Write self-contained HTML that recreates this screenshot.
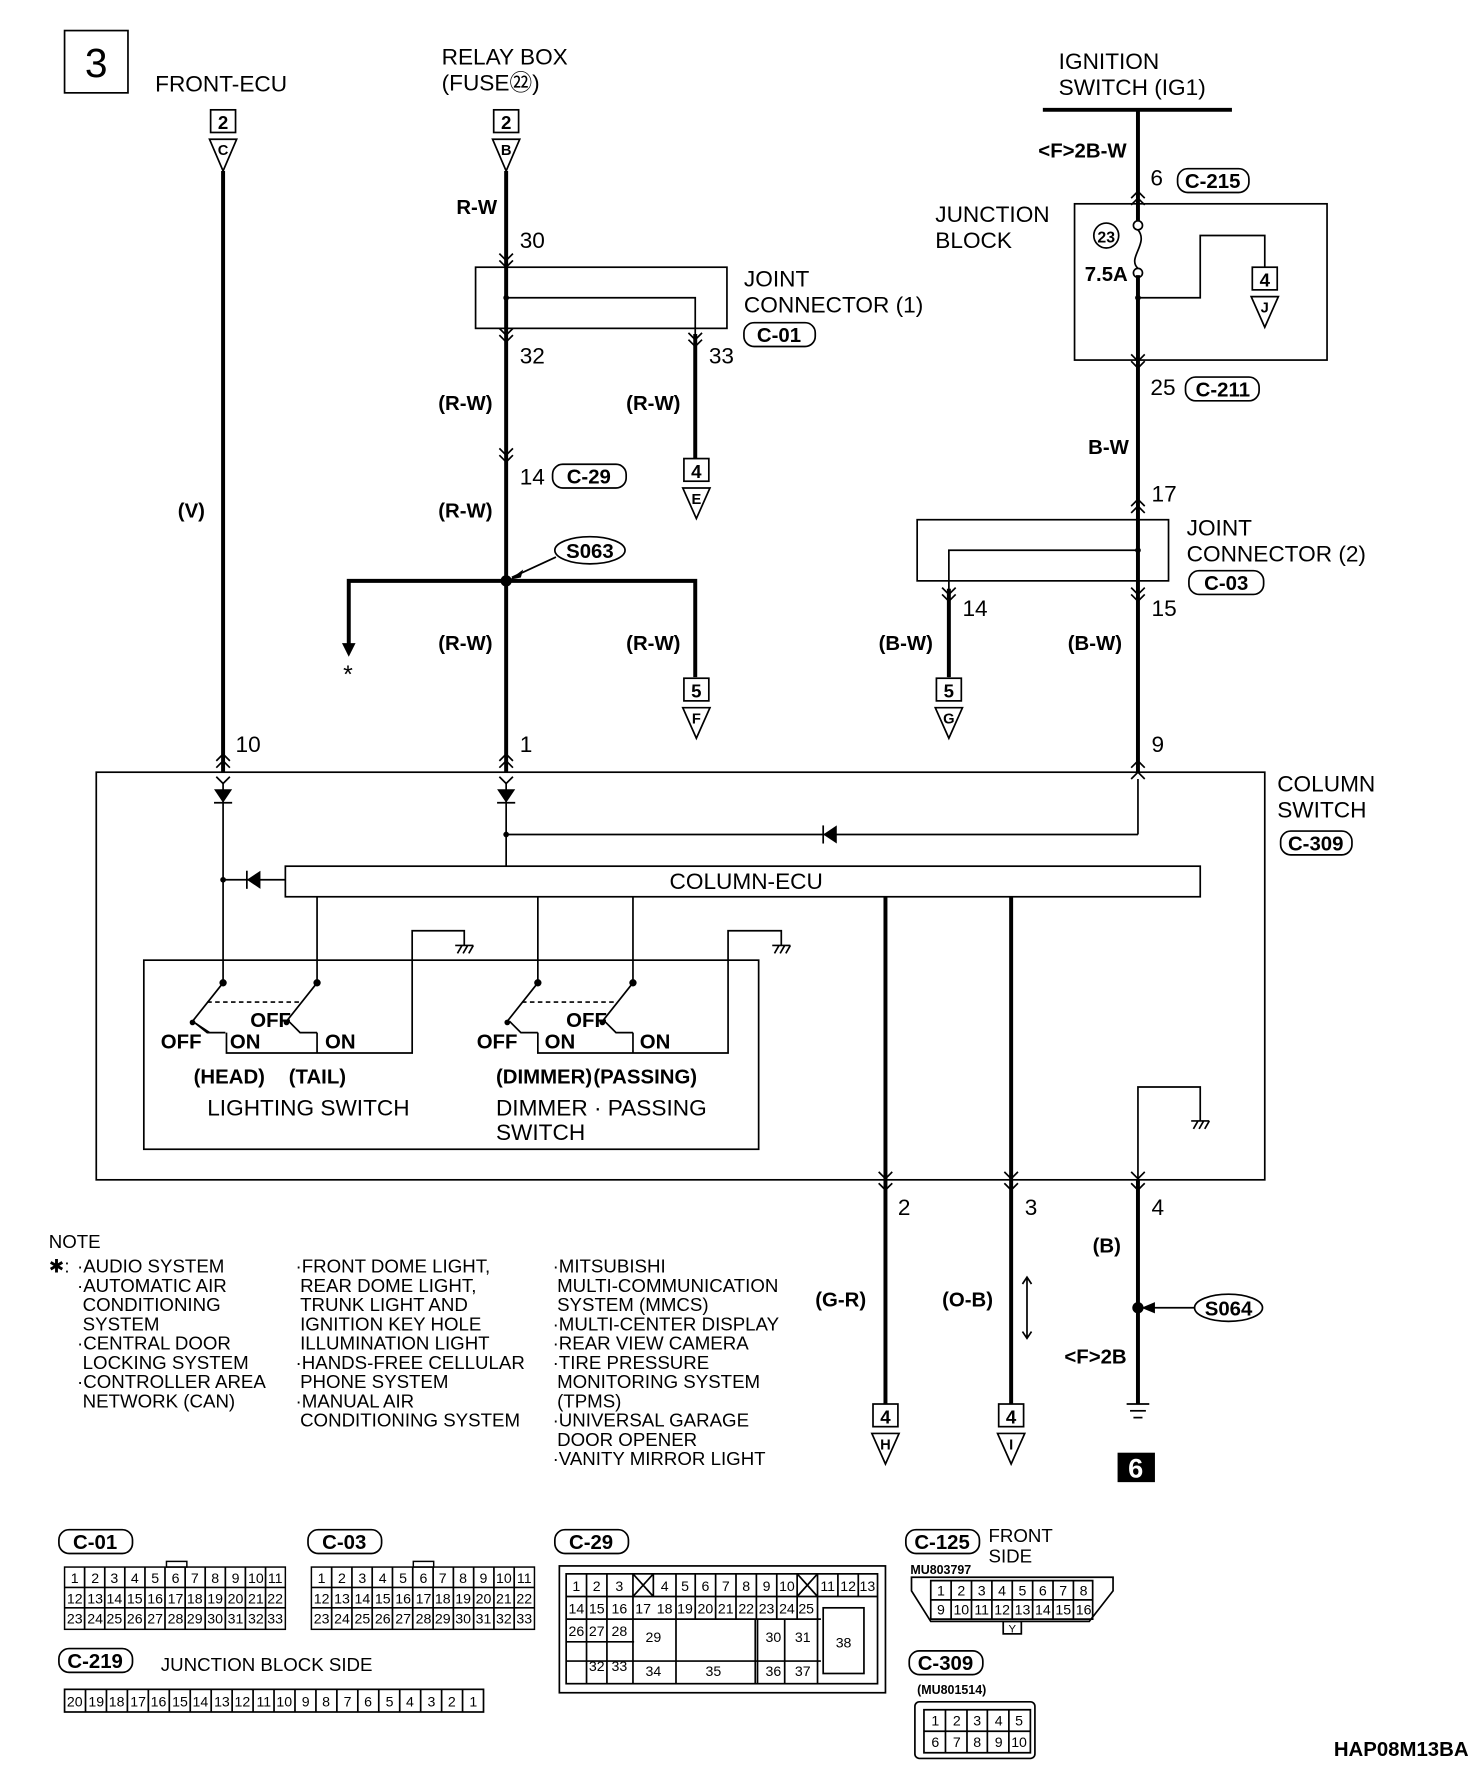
<!DOCTYPE html>
<html><head><meta charset="utf-8"><style>
html,body{margin:0;padding:0;background:#fff}
svg{display:block}
text{font-family:"Liberation Sans",sans-serif;fill:#000}
.t{font-size:20px}
.w{font-size:18px;font-weight:bold;font-family:"Liberation Sans Narrow","Liberation Sans",sans-serif}
.s{font-size:16.5px}
.g{font-size:12.5px;text-anchor:middle}
.th{stroke:#000;stroke-width:3.5;fill:none}
.tn{stroke:#000;stroke-width:1.5;fill:none}
.gr rect{fill:none;stroke:#000;stroke-width:1.3}
</style></head><body>
<svg width="1472" height="1772" viewBox="0 0 1300 1565" xmlns="http://www.w3.org/2000/svg">
<rect x="0" y="0" width="1300" height="1565" fill="#fff"/>
<rect x="57" y="27" width="56" height="55" class="tn" stroke-width="2"/>
<text x="85" y="68" font-size="36" text-anchor="middle">3</text>
<text x="137" y="81" class="t">FRONT-ECU</text>
<text x="390" y="57" class="t">RELAY BOX</text>
<text x="390" y="80" class="t">(FUSE㉒)</text>
<text x="935" y="61" class="t">IGNITION</text>
<text x="935" y="84" class="t">SWITCH (IG1)</text>
<line x1="921" y1="97" x2="1088" y2="97" class="th" stroke-width="2.5"/>

<!-- top connectors -->
<g>
<rect x="186" y="97" width="22" height="20" class="tn"/><text x="197" y="114" class="s" text-anchor="middle" font-weight="bold">2</text>
<polygon points="185,123 209,123 197,151" class="tn"/><text x="197" y="137" font-size="13" text-anchor="middle" font-weight="bold">C</text>
<rect x="436" y="97" width="22" height="20" class="tn"/><text x="447" y="114" class="s" text-anchor="middle" font-weight="bold">2</text>
<polygon points="435,123 459,123 447,151" class="tn"/><text x="447" y="137" font-size="13" text-anchor="middle" font-weight="bold">B</text>
</g>
<line x1="197" y1="151" x2="197" y2="682" class="th"/>
<line x1="447" y1="151" x2="447" y2="682" class="th"/>
<line x1="1005" y1="97" x2="1005" y2="682" class="th"/>
<line x1="614" y1="295" x2="614" y2="405" class="th"/>

<!-- relay side -->
<text x="403" y="189" class="w">R-W</text>
<text x="459" y="219" class="t">30</text>
<rect x="420" y="236" width="222" height="54" class="tn"/>
<polyline points="447,263 614,263 614,295" class="tn"/>
<circle cx="447" cy="263" r="2.5"/>
<text x="657" y="253" class="t">JOINT</text>
<text x="657" y="276" class="t">CONNECTOR (1)</text>
<rect x="657" y="285" width="63" height="21" rx="9" class="tn"/><text x="688" y="302" class="w" text-anchor="middle">C-01</text>
<text x="459" y="321" class="t">32</text><text x="626" y="321" class="t">33</text>
<text x="387" y="362" class="w">(R-W)</text><text x="553" y="362" class="w">(R-W)</text>
<rect x="604" y="405" width="22" height="20" class="tn"/><text x="615" y="422" class="s" text-anchor="middle" font-weight="bold">4</text>
<polygon points="603,431 627,431 615,458" class="tn"/><text x="615" y="445" font-size="13" text-anchor="middle" font-weight="bold">E</text>
<text x="459" y="428" class="t">14</text>
<rect x="488" y="410" width="65" height="21" rx="9" class="tn"/><text x="520" y="427" class="w" text-anchor="middle">C-29</text>
<text x="157" y="457" class="w">(V)</text><text x="387" y="457" class="w">(R-W)</text>
<ellipse cx="521" cy="486" rx="31" ry="12" class="tn"/><text x="521" y="493" class="w" text-anchor="middle">S063</text>
<line x1="491" y1="492" x2="452" y2="510" class="tn"/><polygon points="450,512 462,503 460,510" />
<circle cx="447" cy="513" r="5"/>
<polyline points="308,575 308,513 614,513 614,598" class="th"/>
<polygon points="302,568 314,568 308,580"/>
<text x="303" y="603" font-size="22">*</text>
<text x="387" y="574" class="w">(R-W)</text><text x="553" y="574" class="w">(R-W)</text>
<rect x="604" y="599" width="22" height="20" class="tn"/><text x="615" y="616" class="s" text-anchor="middle" font-weight="bold">5</text>
<polygon points="603,625 627,625 615,652" class="tn"/><text x="615" y="639" font-size="13" text-anchor="middle" font-weight="bold">F</text>

<!-- ignition side -->
<text x="917" y="139" class="w">&lt;F&gt;2B-W</text>
<text x="1016" y="164" class="t">6</text>
<rect x="1040" y="149" width="63" height="21" rx="9" class="tn"/><text x="1071" y="166" class="w" text-anchor="middle">C-215</text>
<text x="826" y="196" class="t">JUNCTION</text><text x="826" y="219" class="t">BLOCK</text>
<rect x="949" y="180" width="223" height="138" class="tn"/>
<rect x="1001" y="195" width="8" height="48" fill="#fff"/>
<circle cx="1005" cy="199" r="4" class="tn"/><circle cx="1005" cy="241" r="4" class="tn"/>
<path d="M1005,203 C1015,215 995,228 1005,237" class="tn"/>
<circle cx="977" cy="208" r="11" class="tn"/><text x="977" y="214" font-size="14" text-anchor="middle" font-weight="bold">23</text>
<text x="958" y="248" class="w">7.5A</text>
<circle cx="1005" cy="263" r="2.5"/>
<polyline points="1005,263 1060,263 1060,208 1117,208 1117,236" class="tn"/>
<rect x="1106" y="236" width="22" height="20" class="tn"/><text x="1117" y="253" class="s" text-anchor="middle" font-weight="bold">4</text>
<polygon points="1105,262 1129,262 1117,289" class="tn"/><text x="1117" y="276" font-size="13" text-anchor="middle" font-weight="bold">J</text>
<text x="1016" y="349" class="t">25</text>
<rect x="1047" y="333" width="65" height="21" rx="9" class="tn"/><text x="1080" y="350" class="w" text-anchor="middle">C-211</text>
<text x="961" y="401" class="w">B-W</text>
<text x="1017" y="443" class="t">17</text>
<rect x="810" y="459" width="222" height="54" class="tn"/>
<polyline points="1005,486 838,486 838,598" class="tn"/>
<line x1="838" y1="520" x2="838" y2="598" class="th"/>
<circle cx="1005" cy="486" r="2.5"/>
<text x="1048" y="473" class="t">JOINT</text><text x="1048" y="496" class="t">CONNECTOR (2)</text>
<rect x="1050" y="504" width="66" height="21" rx="9" class="tn"/><text x="1083" y="521" class="w" text-anchor="middle">C-03</text>
<text x="850" y="544" class="t">14</text><text x="1017" y="544" class="t">15</text>
<text x="776" y="574" class="w">(B-W)</text><text x="943" y="574" class="w">(B-W)</text>
<rect x="827" y="599" width="22" height="20" class="tn"/><text x="838" y="616" class="s" text-anchor="middle" font-weight="bold">5</text>
<polygon points="826,625 850,625 838,652" class="tn"/><text x="838" y="639" font-size="13" text-anchor="middle" font-weight="bold">G</text>

<!-- chevrons -->
<g class="tn" stroke-width="1.3">
<path d="M441,224 447,230 453,224 M441,230 447,236 453,230"/>
<path d="M441,290 447,296 453,290 M441,296 447,302 453,296"/>
<path d="M608,294 614,300 620,294 M608,300 614,306 620,300"/>
<path d="M441,396 447,402 453,396 M441,402 447,408 453,402"/>
<path d="M999,175 1005,169 1011,175 M999,181 1005,175 1011,181"/>
<path d="M999,313 1005,319 1011,313 M999,319 1005,325 1011,319"/>
<path d="M999,447 1005,441 1011,447 M999,453 1005,447 1011,453"/>
<path d="M999,519 1005,525 1011,519 M999,525 1005,531 1011,525"/>
<path d="M832,519 838,525 844,519 M832,525 838,531 844,525"/>
<path d="M191,672 197,666 203,672 M191,678 197,672 203,678 M191,686 197,692 203,686"/>
<path d="M441,672 447,666 453,672 M441,678 447,672 453,678 M441,686 447,692 453,686"/>
<path d="M999,678 1005,672 1011,678 M999,688 1005,682 1011,688"/>
<path d="M776,1035 782,1041 788,1035 M776,1045 782,1051 788,1045"/>
<path d="M887,1035 893,1041 899,1035 M887,1045 893,1051 899,1045"/>
<path d="M999,1035 1005,1041 1011,1035 M999,1045 1005,1051 1011,1045"/>
</g>
<text x="208" y="664" class="t">10</text><text x="459" y="664" class="t">1</text><text x="1017" y="664" class="t">9</text>

<!-- column switch -->
<rect x="85" y="682" width="1032" height="360" class="tn"/>
<text x="1128" y="699" class="t">COLUMN</text><text x="1128" y="722" class="t">SWITCH</text>
<rect x="1131" y="734" width="63" height="21" rx="9" class="tn"/><text x="1162" y="751" class="w" text-anchor="middle">C-309</text>
<line x1="197" y1="692" x2="197" y2="868" class="tn"/>
<line x1="447" y1="692" x2="447" y2="765" class="tn"/>
<line x1="1005" y1="688" x2="1005" y2="737" class="tn"/>
<polygon points="189,697 205,697 197,709"/><line x1="189" y1="709" x2="205" y2="709" class="tn"/>
<polygon points="439,697 455,697 447,709"/><line x1="439" y1="709" x2="455" y2="709" class="tn"/>
<line x1="447" y1="737" x2="1005" y2="737" class="tn"/>
<circle cx="447" cy="737" r="2.5"/>
<polygon points="727,737 739,729 739,745"/><line x1="727" y1="729" x2="727" y2="745" class="tn"/>
<rect x="252" y="765" width="808" height="27" class="tn"/>
<text x="659" y="785" class="t" text-anchor="middle">COLUMN-ECU</text>
<line x1="197" y1="777" x2="252" y2="777" class="tn"/>
<circle cx="197" cy="777" r="2.5"/>
<polygon points="218,777 230,769 230,785"/><line x1="218" y1="769" x2="218" y2="785" class="tn"/>
<!-- switches box -->
<rect x="127" y="848" width="543" height="167" class="tn"/>
<line x1="280" y1="792" x2="280" y2="868" class="tn"/>
<line x1="475" y1="792" x2="475" y2="868" class="tn"/>
<line x1="559" y1="792" x2="559" y2="868" class="tn"/>
<line x1="782" y1="792" x2="782" y2="1240" class="th"/>
<line x1="893" y1="792" x2="893" y2="1240" class="th"/>
<line x1="782" y1="792" x2="782" y2="1042" class="tn" stroke="#fff" stroke-width="2"/>
<line x1="893" y1="792" x2="893" y2="1042" class="tn" stroke="#fff" stroke-width="2"/>
<line x1="782" y1="792" x2="782" y2="1042" class="tn"/>
<line x1="893" y1="792" x2="893" y2="1042" class="tn"/>
<g class="tn">
<circle cx="197" cy="868" r="2.5" fill="#000"/><circle cx="280" cy="868" r="2.5" fill="#000"/>
<circle cx="475" cy="868" r="2.5" fill="#000"/><circle cx="559" cy="868" r="2.5" fill="#000"/>
<line x1="197" y1="868" x2="170" y2="902"/><line x1="280" y1="868" x2="253" y2="902"/>
<line x1="475" y1="868" x2="448" y2="902"/><line x1="559" y1="868" x2="532" y2="902"/>
<line x1="183" y1="885" x2="266" y2="885" stroke-dasharray="4,3"/>
<line x1="461" y1="885" x2="545" y2="885" stroke-dasharray="4,3"/>
<path d="M170,902 L185,912 M200,912 L200,912"/>
<path d="M255,902 L265,912 L280,912"/>
<path d="M450,902 L460,912 L475,912"/><path d="M534,902 L544,912 L559,912"/>
<path d="M173,904 L183,912 L199,912"/>
<polyline points="200,912 200,930 364,930 364,822 410,822 410,835"/>
<polyline points="280,912 280,930"/>
<polyline points="475,912 475,930 643,930 643,822 690,822 690,835"/>
<polyline points="559,912 559,930"/>
<polyline points="1005,1042 1005,960 1060,960 1060,990"/>
</g>
<g class="tn" stroke-width="1.2">
<path d="M402,835 418,835 M404,842 408,835 M409,842 413,835 M414,842 418,835"/>
<path d="M682,835 698,835 M684,842 688,835 M689,842 693,835 M694,842 698,835"/>
<path d="M1052,990 1068,990 M1054,997 1058,990 M1059,997 1063,990 M1064,997 1068,990"/>
</g>
<circle cx="170" cy="903" r="2.5"/><circle cx="253" cy="903" r="2.5"/><circle cx="448" cy="903" r="2.5"/><circle cx="532" cy="903" r="2.5"/>
<text x="142" y="926" class="w">OFF</text><text x="203" y="926" class="w">ON</text>
<text x="221" y="907" class="w">OFF</text><text x="287" y="926" class="w">ON</text>
<text x="421" y="926" class="w">OFF</text><text x="481" y="926" class="w">ON</text>
<text x="500" y="907" class="w">OFF</text><text x="565" y="926" class="w">ON</text>
<text x="171" y="957" class="w">(HEAD)</text><text x="255" y="957" class="w">(TAIL)</text>
<text x="438" y="957" class="w">(DIMMER)</text><text x="524" y="957" class="w">(PASSING)</text>
<text x="183" y="985" class="t">LIGHTING SWITCH</text>
<text x="438" y="985" class="t">DIMMER · PASSING</text>
<text x="438" y="1007" class="t">SWITCH</text>

<!-- bottom outputs -->
<line x1="1005" y1="1042" x2="1005" y2="1240" class="th"/>
<text x="793" y="1073" class="t">2</text><text x="905" y="1073" class="t">3</text><text x="1017" y="1073" class="t">4</text>
<text x="965" y="1106" class="w">(B)</text>
<text x="720" y="1154" class="w">(G-R)</text><text x="832" y="1154" class="w">(O-B)</text>
<path d="M907,1128 907,1182 M903,1134 907,1128 911,1134 M903,1176 907,1182 911,1176" class="tn"/>
<ellipse cx="1085" cy="1155" rx="30" ry="12" class="tn"/><text x="1085" y="1162" class="w" text-anchor="middle">S064</text>
<line x1="1055" y1="1155" x2="1012" y2="1155" class="tn"/><polygon points="1008,1155 1020,1150 1020,1160"/>
<circle cx="1005" cy="1155" r="5"/>
<text x="940" y="1204" class="w">&lt;F&gt;2B</text>
<g class="tn"><line x1="995" y1="1240" x2="1015" y2="1240"/><line x1="998" y1="1246" x2="1012" y2="1246"/><line x1="1001" y1="1252" x2="1009" y2="1252"/></g>
<rect x="987" y="1283" width="33" height="26" fill="#000"/><text x="1003" y="1305" font-size="24" font-weight="bold" text-anchor="middle" style="fill:#fff">6</text>
<rect x="771" y="1240" width="22" height="20" class="tn"/><text x="782" y="1257" class="s" text-anchor="middle" font-weight="bold">4</text>
<polygon points="770,1266 794,1266 782,1293" class="tn"/><text x="782" y="1280" font-size="13" text-anchor="middle" font-weight="bold">H</text>
<rect x="882" y="1240" width="22" height="20" class="tn"/><text x="893" y="1257" class="s" text-anchor="middle" font-weight="bold">4</text>
<polygon points="881,1266 905,1266 893,1293" class="tn"/><text x="893" y="1280" font-size="13" text-anchor="middle" font-weight="bold">I</text>

<!-- notes -->
<g class="s">
<text x="43" y="1102">NOTE</text>
<text x="43" y="1124">✱:</text>
<text x="68" y="1124">·AUDIO SYSTEM</text>
<text x="68" y="1141">·AUTOMATIC AIR</text>
<text x="73" y="1158">CONDITIONING</text>
<text x="73" y="1175">SYSTEM</text>
<text x="68" y="1192">·CENTRAL DOOR</text>
<text x="73" y="1209">LOCKING SYSTEM</text>
<text x="68" y="1226">·CONTROLLER AREA</text>
<text x="73" y="1243">NETWORK (CAN)</text>
<text x="261" y="1124">·FRONT DOME LIGHT,</text>
<text x="265" y="1141">REAR DOME LIGHT,</text>
<text x="265" y="1158">TRUNK LIGHT AND</text>
<text x="265" y="1175">IGNITION KEY HOLE</text>
<text x="265" y="1192">ILLUMINATION LIGHT</text>
<text x="261" y="1209">·HANDS-FREE CELLULAR</text>
<text x="265" y="1226">PHONE SYSTEM</text>
<text x="261" y="1243">·MANUAL AIR</text>
<text x="265" y="1260">CONDITIONING SYSTEM</text>
<text x="488" y="1124">·MITSUBISHI</text>
<text x="492" y="1141">MULTI-COMMUNICATION</text>
<text x="492" y="1158">SYSTEM (MMCS)</text>
<text x="488" y="1175">·MULTI-CENTER DISPLAY</text>
<text x="488" y="1192">·REAR VIEW CAMERA</text>
<text x="488" y="1209">·TIRE PRESSURE</text>
<text x="492" y="1226">MONITORING SYSTEM</text>
<text x="492" y="1243">(TPMS)</text>
<text x="488" y="1260">·UNIVERSAL GARAGE</text>
<text x="492" y="1277">DOOR OPENER</text>
<text x="488" y="1294">·VANITY MIRROR LIGHT</text>
</g>

<!-- connector drawings -->
<g>
<rect x="52" y="1351" width="65" height="21" rx="9" class="tn"/><text x="84" y="1368" class="w" text-anchor="middle">C-01</text>
<rect x="272" y="1351" width="65" height="21" rx="9" class="tn"/><text x="304" y="1368" class="w" text-anchor="middle">C-03</text>
<rect x="490" y="1351" width="65" height="21" rx="9" class="tn"/><text x="522" y="1368" class="w" text-anchor="middle">C-29</text>
<rect x="52" y="1456" width="65" height="21" rx="9" class="tn"/><text x="84" y="1473" class="w" text-anchor="middle">C-219</text>
<text x="142" y="1476" class="s">JUNCTION BLOCK SIDE</text>
<rect x="800" y="1351" width="65" height="21" rx="9" class="tn"/><text x="832" y="1368" class="w" text-anchor="middle">C-125</text>
<text x="873" y="1362" class="s">FRONT</text><text x="873" y="1380" class="s">SIDE</text>
<text x="804" y="1390" font-size="11" font-weight="bold">MU803797</text>
<rect x="803" y="1458" width="65" height="21" rx="9" class="tn"/><text x="835" y="1475" class="w" text-anchor="middle">C-309</text>
<text x="810" y="1496" font-size="11" font-weight="bold">(MU801514)</text>
</g>

<!-- C-01 / C-03 grids -->
<g class="gr">
<rect x="57" y="1384" width="195" height="55"/>
<rect x="275" y="1384" width="197" height="55"/>
<rect x="147" y="1379" width="18" height="5"/><rect x="365" y="1379" width="18" height="5"/>
</g>
<g class="tn" stroke-width="1">
<path d="M57,1402H252M57,1420H252M275,1402H472M275,1420H472"/>
<path d="M74.7,1384V1439M92.5,1384V1439M110.2,1384V1439M128,1384V1439M145.7,1384V1439M163.5,1384V1439M181.2,1384V1439M199,1384V1439M216.7,1384V1439M234.5,1384V1439"/>
<path d="M292.9,1384V1439M310.8,1384V1439M328.7,1384V1439M346.6,1384V1439M364.5,1384V1439M382.5,1384V1439M400.4,1384V1439M418.3,1384V1439M436.2,1384V1439M454.1,1384V1439"/>
</g>
<g class="g">
<text x="66" y="1398">1</text><text x="84" y="1398">2</text><text x="101" y="1398">3</text><text x="119" y="1398">4</text><text x="137" y="1398">5</text><text x="155" y="1398">6</text><text x="172" y="1398">7</text><text x="190" y="1398">8</text><text x="208" y="1398">9</text><text x="226" y="1398">10</text><text x="243" y="1398">11</text>
<text x="66" y="1416">12</text><text x="84" y="1416">13</text><text x="101" y="1416">14</text><text x="119" y="1416">15</text><text x="137" y="1416">16</text><text x="155" y="1416">17</text><text x="172" y="1416">18</text><text x="190" y="1416">19</text><text x="208" y="1416">20</text><text x="226" y="1416">21</text><text x="243" y="1416">22</text>
<text x="66" y="1434">23</text><text x="84" y="1434">24</text><text x="101" y="1434">25</text><text x="119" y="1434">26</text><text x="137" y="1434">27</text><text x="155" y="1434">28</text><text x="172" y="1434">29</text><text x="190" y="1434">30</text><text x="208" y="1434">31</text><text x="226" y="1434">32</text><text x="243" y="1434">33</text>
<text x="284" y="1398">1</text><text x="302" y="1398">2</text><text x="320" y="1398">3</text><text x="338" y="1398">4</text><text x="356" y="1398">5</text><text x="374" y="1398">6</text><text x="391" y="1398">7</text><text x="409" y="1398">8</text><text x="427" y="1398">9</text><text x="445" y="1398">10</text><text x="463" y="1398">11</text>
<text x="284" y="1416">12</text><text x="302" y="1416">13</text><text x="320" y="1416">14</text><text x="338" y="1416">15</text><text x="356" y="1416">16</text><text x="374" y="1416">17</text><text x="391" y="1416">18</text><text x="409" y="1416">19</text><text x="427" y="1416">20</text><text x="445" y="1416">21</text><text x="463" y="1416">22</text>
<text x="284" y="1434">23</text><text x="302" y="1434">24</text><text x="320" y="1434">25</text><text x="338" y="1434">26</text><text x="356" y="1434">27</text><text x="374" y="1434">28</text><text x="391" y="1434">29</text><text x="409" y="1434">30</text><text x="427" y="1434">31</text><text x="445" y="1434">32</text><text x="463" y="1434">33</text>
</g>

<!-- C-219 -->
<rect x="57" y="1492" width="370" height="20" class="tn"/>
<path class="tn" stroke-width="1" d="M75.5,1492V1512M94,1492V1512M112.5,1492V1512M131,1492V1512M149.5,1492V1512M168,1492V1512M186.5,1492V1512M205,1492V1512M223.5,1492V1512M242,1492V1512M260.5,1492V1512M279,1492V1512M297.5,1492V1512M316,1492V1512M334.5,1492V1512M353,1492V1512M371.5,1492V1512M390,1492V1512M408.5,1492V1512"/>
<g class="g">
<text x="66" y="1507">20</text><text x="85" y="1507">19</text><text x="103" y="1507">18</text><text x="122" y="1507">17</text><text x="140" y="1507">16</text><text x="159" y="1507">15</text><text x="177" y="1507">14</text><text x="196" y="1507">13</text><text x="214" y="1507">12</text><text x="233" y="1507">11</text><text x="251" y="1507">10</text><text x="270" y="1507">9</text><text x="288" y="1507">8</text><text x="307" y="1507">7</text><text x="325" y="1507">6</text><text x="344" y="1507">5</text><text x="362" y="1507">4</text><text x="381" y="1507">3</text><text x="399" y="1507">2</text><text x="418" y="1507">1</text>
</g>

<!-- C-29 -->
<rect x="494" y="1383" width="288" height="112" class="tn"/>
<rect x="500" y="1390" width="275" height="97" class="tn" stroke-width="1"/>
<path class="tn" stroke-width="1" d="M500,1410H775M500,1430H725M500,1450H560M500,1467H725M518,1390V1487M536,1390V1487M559,1390V1487M577,1390V1410M597,1390V1430M614,1390V1430M632,1390V1430M650,1390V1430M668,1390V1430M686,1390V1430M704,1390V1430M722,1390V1487M740,1390V1410M758,1390V1410M669,1430V1487M597,1430V1487M667,1430V1487M536,1430V1487M693,1430V1487"/>
<path class="tn" stroke-width="1" d="M559,1390L577,1410M577,1390L559,1410M704,1390L722,1410M722,1390L704,1410"/>
<rect x="727" y="1420" width="36" height="58" class="tn" stroke-width="1"/>
<g class="g">
<text x="509" y="1405">1</text><text x="527" y="1405">2</text><text x="547" y="1405">3</text><text x="587" y="1405">4</text><text x="605" y="1405">5</text><text x="623" y="1405">6</text><text x="641" y="1405">7</text><text x="659" y="1405">8</text><text x="677" y="1405">9</text><text x="695" y="1405">10</text><text x="731" y="1405">11</text><text x="749" y="1405">12</text><text x="766" y="1405">13</text>
<text x="509" y="1425">14</text><text x="527" y="1425">15</text><text x="547" y="1425">16</text><text x="568" y="1425">17</text><text x="587" y="1425">18</text><text x="605" y="1425">19</text><text x="623" y="1425">20</text><text x="641" y="1425">21</text><text x="659" y="1425">22</text><text x="677" y="1425">23</text><text x="695" y="1425">24</text><text x="712" y="1425">25</text>
<text x="509" y="1445">26</text><text x="527" y="1445">27</text><text x="547" y="1445">28</text><text x="577" y="1450">29</text><text x="683" y="1450">30</text><text x="709" y="1450">31</text><text x="745" y="1455">38</text>
<text x="527" y="1476">32</text><text x="547" y="1476">33</text><text x="577" y="1480">34</text><text x="630" y="1480">35</text><text x="683" y="1480">36</text><text x="709" y="1480">37</text>
</g>

<!-- C-125 -->
<polygon points="805,1393 983,1393 983,1405 962,1432 822,1432 805,1405" class="tn"/>
<rect x="886" y="1432" width="16" height="11" class="tn" stroke-width="1"/><text x="894" y="1442" font-size="10" text-anchor="middle">Y</text>
<path class="tn" stroke-width="1" d="M822,1396H965V1430H822ZM822,1413H965M840,1396V1413M858,1396V1413M876,1396V1413M894,1396V1413M912,1396V1413M930,1396V1413M948,1396V1413M840,1413V1430M858,1413V1430M876,1413V1430M894,1413V1430M912,1413V1430M930,1413V1430M948,1413V1430"/>
<g class="g">
<text x="831" y="1409">1</text><text x="849" y="1409">2</text><text x="867" y="1409">3</text><text x="885" y="1409">4</text><text x="903" y="1409">5</text><text x="921" y="1409">6</text><text x="939" y="1409">7</text><text x="957" y="1409">8</text>
<text x="831" y="1426">9</text><text x="849" y="1426">10</text><text x="867" y="1426">11</text><text x="885" y="1426">12</text><text x="903" y="1426">13</text><text x="921" y="1426">14</text><text x="939" y="1426">15</text><text x="957" y="1426">16</text>
</g>

<!-- C-309 -->
<rect x="808" y="1503" width="106" height="50" rx="4" class="tn"/>
<path class="tn" stroke-width="1" d="M816,1510H910V1548H816ZM816,1529H910M835,1510V1548M854,1510V1548M872,1510V1548M891,1510V1548"/>
<g class="g">
<text x="826" y="1524">1</text><text x="845" y="1524">2</text><text x="863" y="1524">3</text><text x="882" y="1524">4</text><text x="900" y="1524">5</text>
<text x="826" y="1543">6</text><text x="845" y="1543">7</text><text x="863" y="1543">8</text><text x="882" y="1543">9</text><text x="900" y="1543">10</text>
</g>

<text x="1178" y="1551" class="w" font-size="17">HAP08M13BA</text>
</svg>
</body></html>
